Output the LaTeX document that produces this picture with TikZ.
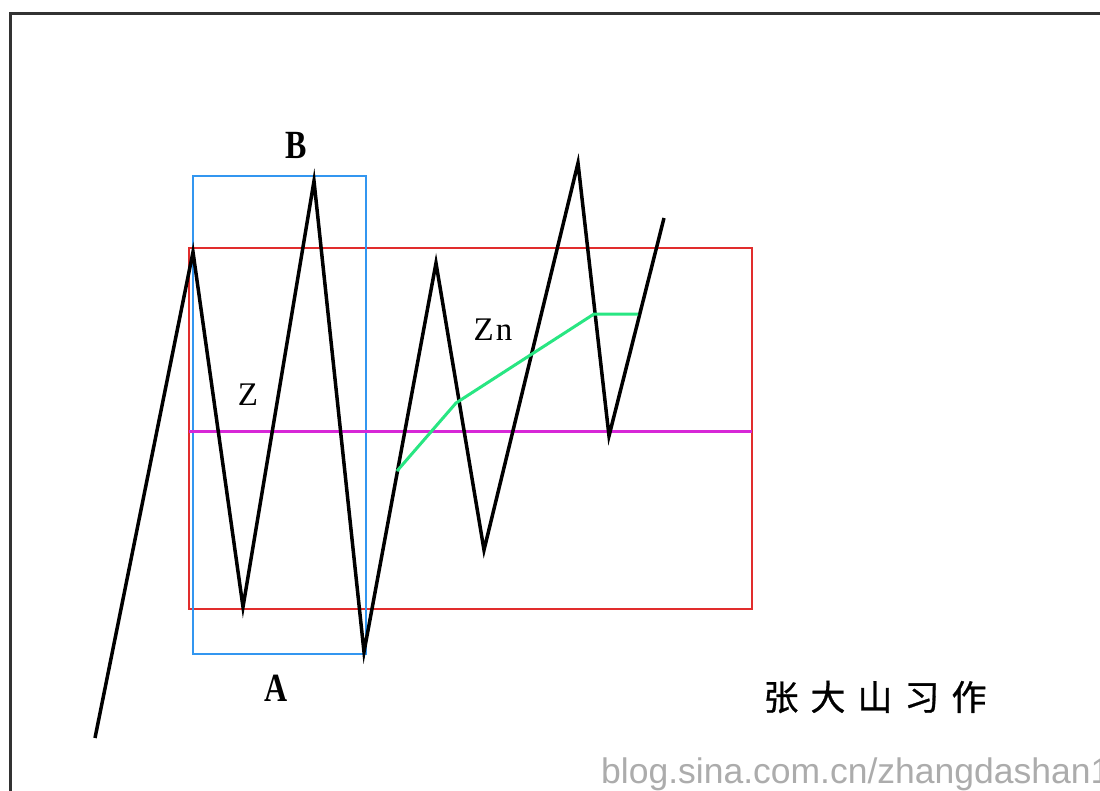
\documentclass[tikz,border=0pt]{standalone}
\usepackage{fontspec}
\setmainfont{Liberation Serif}
\newfontfamily\cjk[FakeBold=0.8]{Noto Sans CJK SC}
\newfontfamily\wmfont{Liberation Sans}
\definecolor{boxblue}{RGB}{50,150,240}
\definecolor{boxred}{RGB}{225,45,45}
\definecolor{midmag}{RGB}{215,40,215}
\definecolor{zngreen}{RGB}{40,230,130}
\definecolor{framegray}{RGB}{50,50,50}
\tikzset{
  price/.style={draw=black,line width=3.5pt,line join=miter},
  bluebox/.style={draw=boxblue,line width=2pt},
  redbox/.style={draw=boxred,line width=2pt},
  midline/.style={draw=midmag,line width=3pt},
  greenline/.style={draw=zngreen,line width=3pt,line join=round},
  letter/.style={inner sep=0pt,font=\fontsize{40}{40}\selectfont\bfseries},
  zlabel/.style={inner sep=0pt,font=\fontsize{33}{33}\selectfont},
}
\begin{document}
\begin{tikzpicture}[x=1pt,y=-1pt]
\useasboundingbox[fill=white] (0,0) rectangle (1100,790);
% frame
\draw[framegray,line width=3pt] (10,795) -- (10,13) -- (1105,13);
% boxes
\draw[redbox] (189,248) rectangle (752,609);
\draw[bluebox] (193,176) rectangle (366,654);
\coordinate (m1) at (189,431);
\coordinate (m2) at (752,431);
\draw[midline] (m1) -- (m2);
% price zigzag
\coordinate (p0) at (95,738);
\coordinate (p1) at (193,252);
\coordinate (p2) at (243,607);
\coordinate (p3) at (314,181);
\coordinate (p4) at (364,652);
\coordinate (p5) at (436,263);
\coordinate (p6) at (484,550);
\coordinate (p7) at (578,163);
\coordinate (p8) at (609,436);
\coordinate (p9) at (664,218);
\draw[price] (p0) -- (p1) -- (p2) -- (p3) -- (p4) -- (p5) -- (p6) -- (p7) -- (p8) -- (p9);
% green line
\coordinate (g0) at (397,471);
\coordinate (g1) at (456,403);
\coordinate (g2) at (594,314);
\coordinate (g3) at (638,314);
\draw[greenline] (g0) -- (g1) -- (g2) -- (g3);
% labels
\node[letter,xscale=0.8] (B) at (296,145) {B};
\node[letter,xscale=0.8] (A) at (276,688) {A};
\node[zlabel] (Z) at (248,395) {Z};
\node[zlabel] (Zn) at (493,330) {Z\kern2pt n};
\node[inner sep=0pt,font=\cjk\fontsize{35}{35}\selectfont] (sig) at (875,697) {张\hspace{12pt}大\hspace{12pt}山\hspace{12pt}习\hspace{12pt}作};
\node[inner sep=0pt,anchor=west,text=gray!65,font=\wmfont\fontsize{35.5}{35.5}\selectfont] (wm) at (601,774) {blog.sina.com.cn/zhangdashan1};
\end{tikzpicture}
\end{document}
